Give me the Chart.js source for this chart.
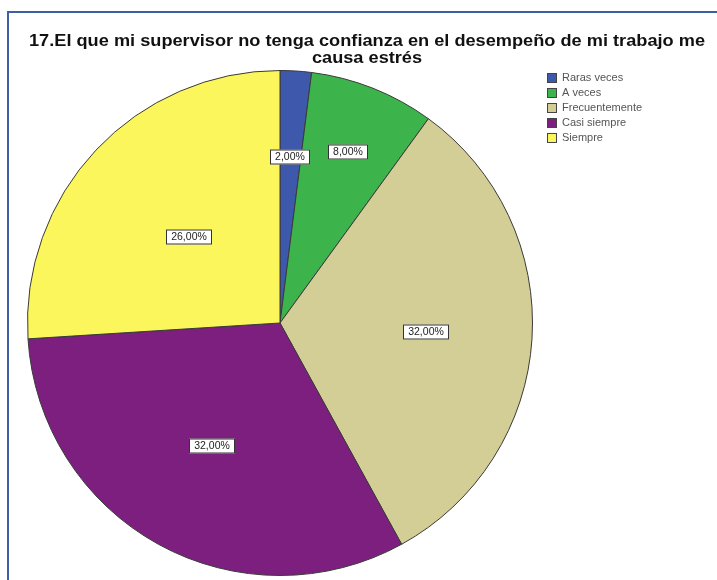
<!DOCTYPE html>
<html>
<head>
<meta charset="utf-8">
<script src="https://cdn.jsdelivr.net/npm/chart.js@4.4.1/dist/chart.umd.min.js"></script>
<style>
    html, body { margin: 0; padding: 0; background: #fff; }
    #marco {
        position: absolute; left: 7px; top: 11px; width: 720px; height: 580px;
        border-left: 2px solid #3d5fa5; border-top: 2px solid #3d5fa5;
    }
    #grafico { position: absolute; left: 0; top: 0; }
</style>
</head>
<body>
<div id="marco"></div>
<canvas id="grafico" width="717" height="580"></canvas>
<script>
// pregunta 17 - respuestas en porcentaje
const categorias = ['Raras veces', 'A veces', 'Frecuentemente', 'Casi siempre', 'Siempre'];
const porcentajes = [2, 8, 32, 32, 26];
const titulo = ['17.El que mi supervisor no tenga confianza en el desempeño de mi trabajo me', 'causa estrés'];

const colores = ['#3e58ac', '#3cb44b', '#d3ce95', '#7c1f7f', '#fbf65b'];
// distancia de cada etiqueta al centro (fraccion del radio)
const posEtiqueta = [0.66, 0.73, 0.58, 0.555, 0.495];

const formato = v => v.toFixed(2).replace('.', ',') + '%';

// titulo, leyenda y etiquetas de porcentaje
const extras = {
    id: 'extras',
    afterDraw(chart) {
        const ctx = chart.ctx;
        ctx.save();

        // titulo en dos lineas, algo ensanchado
        ctx.fillStyle = '#111';
        ctx.font = 'bold 16.5px "Liberation Sans", Arial, sans-serif';
        ctx.textAlign = 'center';
        ctx.textBaseline = 'alphabetic';
        const k = 676 / ctx.measureText(titulo[0]).width;
        ctx.save();
        ctx.scale(k, 1);
        ctx.fillText(titulo[0], 367 / k, 46);
        ctx.fillText(titulo[1], 367 / k, 63);
        ctx.restore();

        // leyenda
        ctx.font = '11px "Liberation Sans", Arial, sans-serif';
        ctx.textAlign = 'left';
        ctx.textBaseline = 'middle';
        chart.data.labels.forEach((lab, i) => {
            const y = 78 + i * 15;
            ctx.fillStyle = colores[i];
            ctx.fillRect(547, y - 5, 10, 10);
            ctx.strokeStyle = '#444';
            ctx.lineWidth = 1;
            ctx.strokeRect(547.5, y - 4.5, 9, 9);
            ctx.fillStyle = '#555';
            ctx.fillText(lab, 562, y);
        });

        // etiquetas sobre cada sector
        const meta = chart.getDatasetMeta(0);
        ctx.font = '10.5px "Liberation Sans", Arial, sans-serif';
        ctx.textAlign = 'center';
        meta.data.forEach((arc, i) => {
            const p = arc.getProps(['x', 'y', 'startAngle', 'endAngle', 'outerRadius']);
            const a = (p.startAngle + p.endAngle) / 2;
            const r = p.outerRadius * posEtiqueta[i];
            const x = Math.round(p.x + Math.cos(a) * r);
            const y = Math.round(p.y + Math.sin(a) * r);
            const txt = formato(chart.data.datasets[0].data[i]);
            const w = Math.ceil(ctx.measureText(txt).width) + 10;
            const h = 15;
            ctx.fillStyle = '#fff';
            ctx.fillRect(x - w / 2, y - h / 2, w, h);
            ctx.strokeStyle = '#333';
            ctx.lineWidth = 1;
            ctx.strokeRect(x - w / 2 + 0.5, y - h / 2 + 0.5, w - 1, h - 1);
            ctx.fillStyle = '#222';
            ctx.fillText(txt, x, y + 0.5);
        });
        ctx.restore();
    }
};

new Chart(document.getElementById('grafico'), {
    type: 'pie',
    data: {
        labels: categorias,
        datasets: [{
            data: porcentajes,
            backgroundColor: colores,
            borderColor: '#3a3a3a',
            borderWidth: 1
        }]
    },
    options: {
        responsive: false,
        animation: false,
        layout: { padding: { left: 27, top: 70, right: 184, bottom: 4 } },
        plugins: {
            legend: { display: false },
            tooltip: { enabled: false }
        }
    },
    plugins: [extras]
});
</script>
</body>
</html>
